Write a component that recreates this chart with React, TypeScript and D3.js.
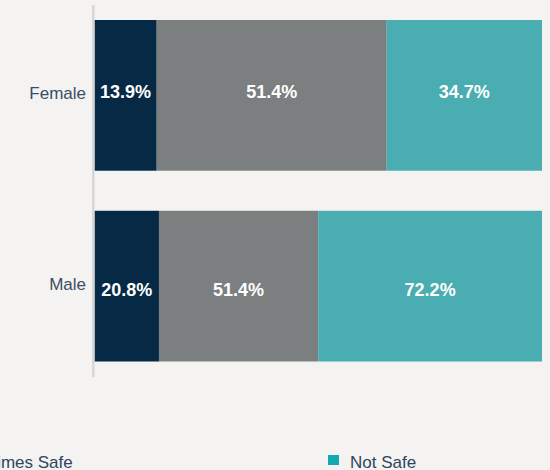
import React from "react";
import * as d3 from "d3";

const categories = ["Female", "Male"];
const seriesNames = ["Safe", "Sometimes Safe", "Not Safe"];
const safe = [13.9, 20.8];
const sometimesSafe = [51.4, 51.4];
const notSafe = [34.7, 72.2];

const W = 550;
const H = 470;
const barColors = ["#062a45", "#7c7f80", "#49adb2"];
const legendColors = ["#062a45", "#7c7f80", "#12aab2"];
const valueDy = [3, 9.5];

export default function App() {
  const x = d3.scaleLinear().domain([0, 1]).range([94.5, 542]);
  const y = d3.scaleBand<string>().domain(categories).range([20, 361.5]).paddingInner(0.21).paddingOuter(0);

  const rows = categories.map((c, i) => {
    const vals = [safe[i], sometimesSafe[i], notSafe[i]];
    const total = d3.sum(vals);
    let acc = 0;
    const segs = vals.map((v, k) => {
      const x0 = acc / total;
      acc += v;
      const x1 = acc / total;
      return { v, k, x0, x1 };
    });
    return { c, i, segs };
  });

  const legendX = (i: number) => -476 + i * 402;

  return (
    <svg width={W} height={H} style={{ display: "block", position: "absolute", left: 0, top: 0, background: "#f4f3f1" }}>
      <rect x={0} y={0} width={W} height={H} fill="#f4f3f1" />
      {rows.map((r) => (
        <g key={r.c}>
          {r.segs.map((s) => (
            <rect
              key={s.k}
              x={x(s.x0)}
              y={y(r.c)}
              width={x(s.x1) - x(s.x0)}
              height={y.bandwidth()}
              fill={barColors[s.k]}
            />
          ))}
          {r.segs.map((s) => (
            <text
              key={"t" + s.k}
              x={(x(s.x0) + x(s.x1)) / 2}
              y={(y(r.c) as number) + y.bandwidth() / 2 + valueDy[r.i]}
              textAnchor="middle"
              fill="#ffffff"
              fontFamily="Liberation Sans, Arial, sans-serif"
              fontWeight="bold"
              fontSize={18}
            >
              {s.v.toFixed(1) + "%"}
            </text>
          ))}
          <text
            x={86}
            y={(y(r.c) as number) + y.bandwidth() / 2 + 3.5}
            textAnchor="end"
            fill="#3a4d66"
            fontFamily="Liberation Sans, Arial, sans-serif"
            fontSize={17}
          >
            {r.c}
          </text>
        </g>
      ))}
      <line x1={93.3} x2={93.3} y1={5} y2={377} stroke="#d6d6d6" strokeWidth={2.5} />
      {seriesNames.map((n, i) => (
        <g key={n}>
          <rect x={legendX(i)} y={455} width={11} height={10} fill={legendColors[i]} />
          <text
            x={legendX(i) + 22}
            y={468}
            fill="#2f4560"
            fontFamily="Liberation Sans, Arial, sans-serif"
            fontSize={17}
          >
            {n}
          </text>
        </g>
      ))}
    </svg>
  );
}
